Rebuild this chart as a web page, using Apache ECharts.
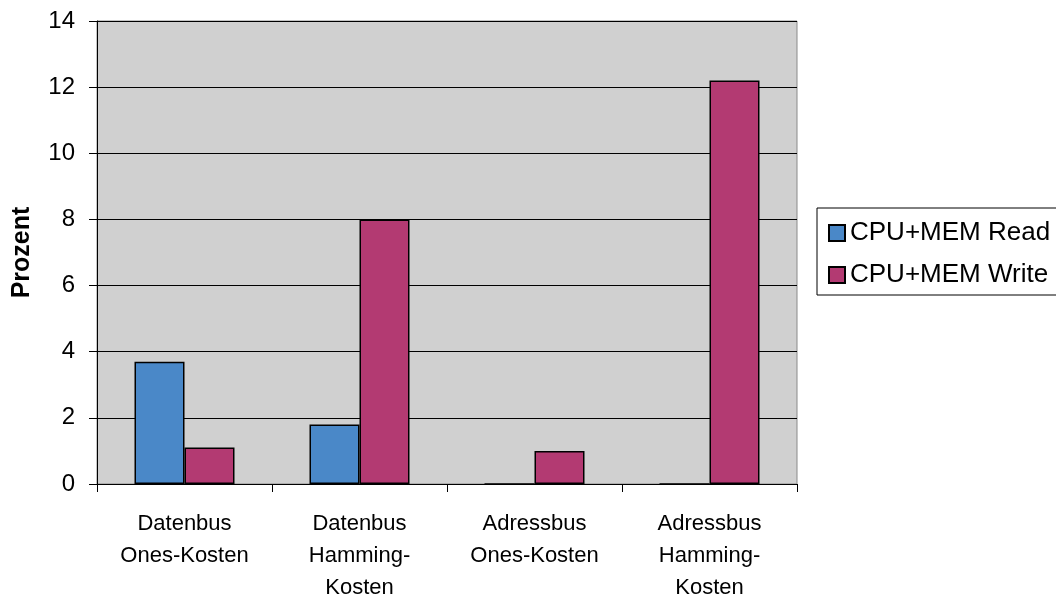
<!DOCTYPE html>
<html>
<head>
<meta charset="utf-8">
<script src="https://cdn.jsdelivr.net/npm/echarts@6/dist/echarts.min.js"></script>
<style>
  html, body { margin: 0; padding: 0; background: #fff; }
  #chart { width: 1056px; height: 603px; }
</style>
</head>
<body>
<div id="chart"></div>
<script>
const categories = ['Datenbus\nOnes-Kosten', 'Datenbus\nHamming-\nKosten', 'Adressbus\nOnes-Kosten', 'Adressbus\nHamming-\nKosten']
const readValues = [3.7, 1.8, 0, 0]
const writeValues = [1.1, 8.0, 1.0, 12.2]
const yTicks = { min: 0, max: 14, interval: 2 }

const chart = echarts.init(document.getElementById('chart'))
const font = 'Arial, "Liberation Sans", sans-serif'

const option = {
  animation: false,
  textStyle: { fontFamily: font, color: '#000' },
  grid: {
    left: 97,
    right: 259,
    top: 21,
    bottom: 119,
    outerBoundsMode: 'none',
    show: true,
    backgroundColor: '#d0d0d0',
    borderColor: '#8a8a8a',
    borderWidth: 1
  },
  legend: {
    orient: 'vertical',
    left: 817,
    top: 208,
    padding: [12, 20, 7, 11],
    itemGap: 16,
    itemWidth: 16,
    itemHeight: 16,
    borderColor: '#000',
    borderWidth: 1,
    icon: 'rect',
    textStyle: { fontSize: 26, color: '#000', fontFamily: font },
    data: ['CPU+MEM Read', 'CPU+MEM Write']
  },
  xAxis: {
    type: 'category',
    data: categories,
    axisLine: { lineStyle: { color: '#000', width: 1 } },
    axisTick: { show: true, length: 8, lineStyle: { color: '#000' } },
    axisLabel: { interval: 0, fontSize: 22, color: '#000', lineHeight: 32, margin: 24 },
    splitLine: { show: false }
  },
  yAxis: {
    type: 'value',
    min: yTicks.min,
    max: yTicks.max,
    interval: yTicks.interval,
    name: 'Prozent',
    nameLocation: 'middle',
    nameGap: 62,
    nameTextStyle: { fontSize: 25, fontWeight: 'bold', color: '#000' },
    axisLine: { show: true, lineStyle: { color: '#000', width: 1 } },
    axisTick: { show: true, length: 8, lineStyle: { color: '#000' } },
    axisLabel: { fontSize: 24, color: '#000', margin: 22 },
    splitLine: { show: true, lineStyle: { color: '#000', width: 1 } }
  },
  series: [
    {
      name: 'CPU+MEM Read',
      type: 'bar',
      data: readValues,
      barWidth: 50,
      barGap: '0%',
      itemStyle: { color: '#4a88c8', borderColor: '#000', borderWidth: 1.5 }
    },
    {
      name: 'CPU+MEM Write',
      type: 'bar',
      data: writeValues,
      barWidth: 50,
      barGap: '0%',
      itemStyle: { color: '#b33a72', borderColor: '#000', borderWidth: 1.5 }
    }
  ]
}
chart.setOption(option)

window.addEventListener('resize', () => {
  chart.resize()
})
</script>
</body>
</html>
